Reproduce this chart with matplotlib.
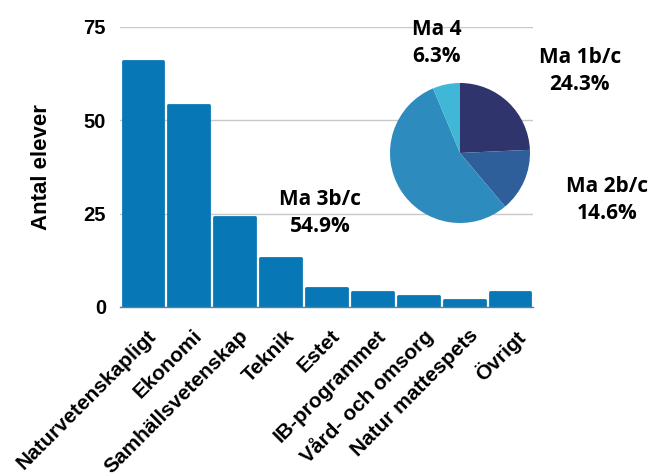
import matplotlib
matplotlib.use("Agg")
import matplotlib.pyplot as plt
import matplotlib.transforms as mtransforms

categories = ["Naturvetenskapligt", "Ekonomi", "Samhällsvetenskap", "Teknik", "Estet",
              "IB-programmet", "Vård- och omsorg", "Natur mattespets", "Övrigt"]
students = [66, 54, 24, 13, 5, 4, 3, 2, 4]
yticks = [0, 25, 50, 75]

pie_labels = ["Ma 1b/c", "Ma 2b/c", "Ma 3b/c", "Ma 4"]
pie_values = [24.3, 14.6, 54.9, 6.3]
pie_colors = ["#30346c", "#2e5f9a", "#2d8bbd", "#41b7d7"]

plt.rcParams['font.family'] = ['Liberation Sans', 'DejaVu Sans']

fig = plt.figure(figsize=(6.49, 4.76), dpi=100)
ax = fig.add_axes([120/649, 1-307/476, 413/649, 280/476])

x = range(len(categories))
bars = ax.bar(x, students, width=0.89, color="#0877b5", edgecolor="#0877b5",
              linewidth=2.0, zorder=3)
for b in bars:
    b.set_joinstyle('round')
ax.set_xlim(-0.5, len(categories) - 0.5)
ax.set_ylim(0, 75)
ax.set_yticks(yticks)
ax.set_yticklabels([str(t) for t in yticks], fontsize=14.5, fontweight='bold')
ax.yaxis.grid(True, color="#c8c8c8", linewidth=1, zorder=0)
ax.set_xticks(list(x))
ax.set_xticklabels(categories, rotation=45, ha='right', rotation_mode='anchor',
                   fontsize=15, fontweight='bold')
ax.tick_params(axis='both', length=0)
ax.tick_params(axis='y', pad=10)
ax.tick_params(axis='x', pad=8)
offset = mtransforms.ScaledTranslation(4/100, -8/100, fig.dpi_scale_trans)
for lbl in ax.get_xticklabels():
    lbl.set_transform(lbl.get_transform() + offset)
for s in ['top', 'right', 'left']:
    ax.spines[s].set_visible(False)
ax.spines['bottom'].set_color("#5b7e99")
ax.spines['bottom'].set_linewidth(1)
ax.spines['bottom'].set_zorder(4)
ax.set_ylabel("Antal elever", fontsize=16, fontweight='bold', labelpad=23)

pax = fig.add_axes([390/649, 1-223/476, 140/649, 140/476])
pax.pie(pie_values, colors=pie_colors, startangle=90, counterclock=False,
        wedgeprops=dict(linewidth=0))
pax.set_aspect('equal')
pax.set_xlim(-1, 1)
pax.set_ylim(-1, 1)

label_pos = [(1.71, 1.17), (2.1, -0.67), (-2.0, -0.86), (-0.33, 1.57)]
for lab, val, (lx, ly) in zip(pie_labels, pie_values, label_pos):
    pax.text(lx, ly, f"{lab}\n{val:.1f}%", ha='center', va='center',
             fontsize=15, fontweight='bold', family=['Open Sans', 'DejaVu Sans'],
             linespacing=1.35, clip_on=False)

fig.savefig("out.png", dpi=100)
